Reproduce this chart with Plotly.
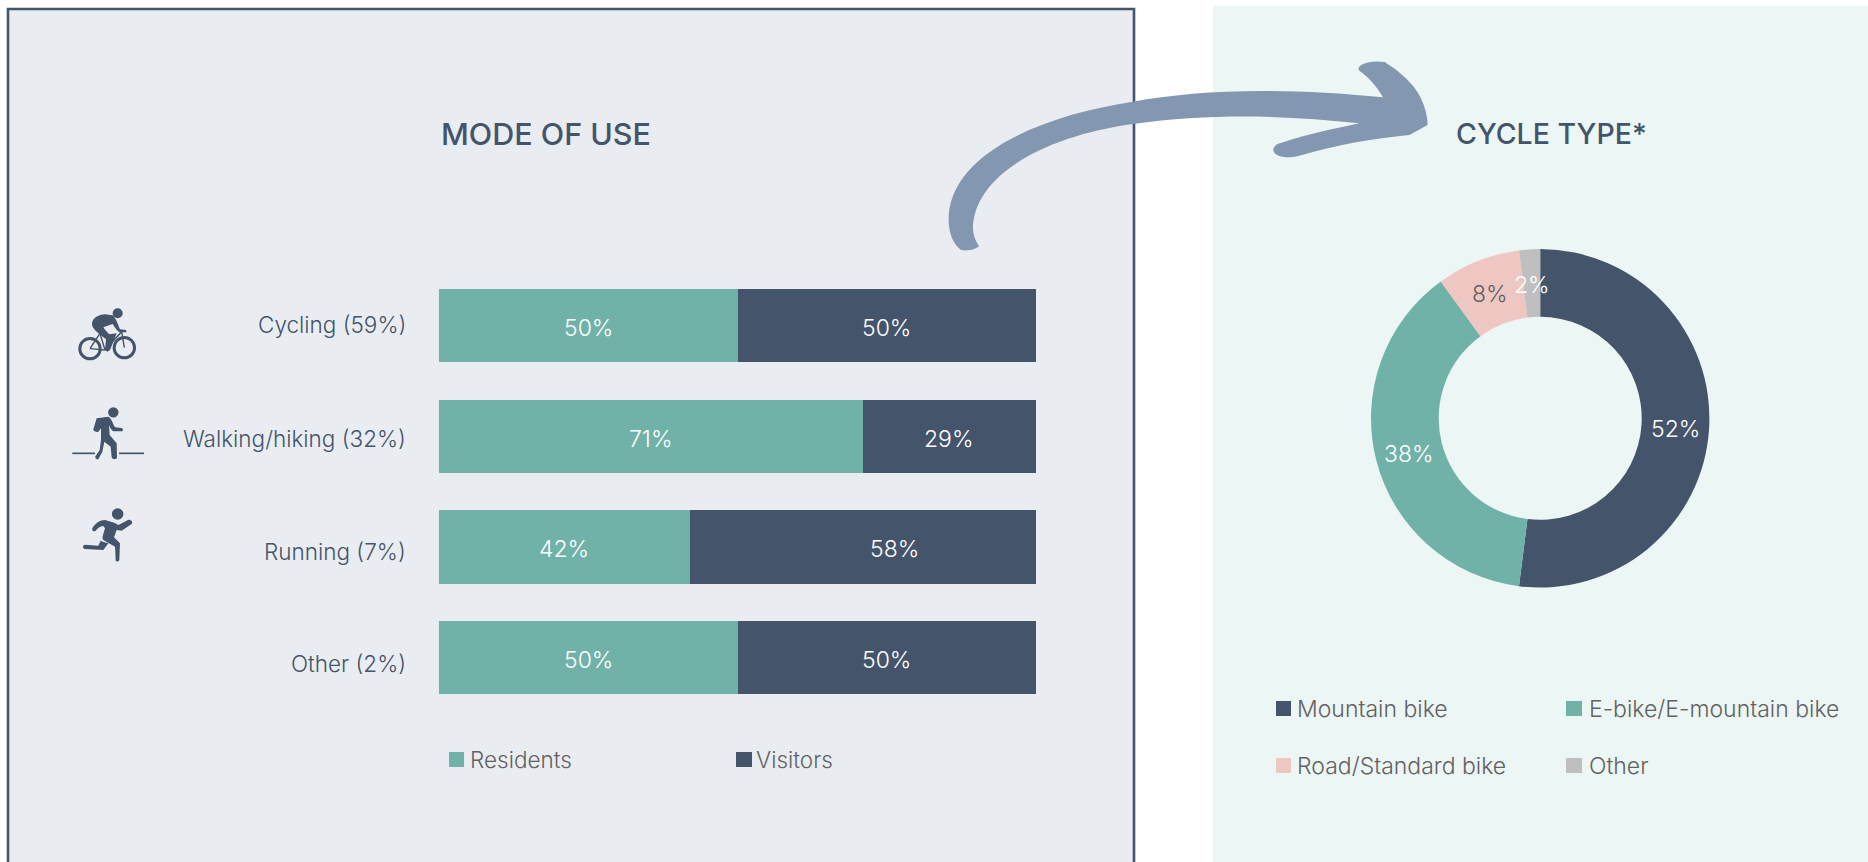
import math
import re
import plotly.graph_objects as go

W, H = 1868, 862

# Data
modes = ["Cycling", "Walking/hiking", "Running", "Other"]
mode_shares = [59, 32, 7, 2]
residents = [50, 71, 42, 50]
visitors = [50, 29, 58, 50]
cycle_types = ["Mountain bike", "E-bike/E-mountain bike", "Road/Standard bike", "Other"]
cycle_values = [52, 38, 8, 2]

# Palette
NAVY = "#44546a"
TEAL = "#71b2a8"
PINK = "#efc7c2"
GREY = "#bfbfbf"
ARROW = "#8497b0"
PANEL_L = "#e9edf2"
PANEL_R = "#ecf6f4"
LEGEND_TEXT = "#626262"
FONT = "Inter"
BODY_SIZE = 23
LABEL_SIZE = 22.5


def fx(px):
    return px / W


def fy(py):
    return 1 - py / H


def path(d, ox=0.0, oy=0.0, sx=1.0, sy=1.0):
    """Turn an absolute M/L/C path in local units into figure-fraction coordinates."""
    nums = iter(re.findall(r"[A-Za-z]|-?\d+\.?\d*", d))
    out = []
    for tok in nums:
        if tok.isalpha():
            out.append(tok)
        else:
            x = ox + float(tok) * sx
            y = oy + float(next(nums)) * sy
            out.append(f"{fx(x):.5f},{fy(y):.5f}")
    return " ".join(out)


shapes = []


def rect(x0, y0, x1, y1, fill, line=None, lw=0, layer="below"):
    shapes.append(dict(type="rect", xref="paper", yref="paper", layer=layer,
                       x0=fx(x0), x1=fx(x1), y0=fy(y0), y1=fy(y1),
                       fillcolor=fill, line=dict(color=line or fill, width=lw)))


def blob(d, ox=0.0, oy=0.0, sx=1.0, sy=1.0, fill=NAVY):
    shapes.append(dict(type="path", xref="paper", yref="paper", layer="above",
                       path=path(d, ox, oy, sx, sy), fillcolor=fill, line=dict(width=0)))


def stroke(d, ox, oy, s, width):
    shapes.append(dict(type="path", xref="paper", yref="paper", layer="above",
                       path=path(d, ox, oy, s, s), line=dict(color=NAVY, width=width)))


def disc(cx, cy, r, fill=NAVY, line=None, lw=0):
    shapes.append(dict(type="circle", xref="paper", yref="paper", layer="above",
                       x0=fx(cx - r), x1=fx(cx + r), y0=fy(cy - r), y1=fy(cy + r),
                       fillcolor=fill, line=dict(color=line or fill, width=lw)))


# Background panels
rect(8, 9, 1134, 880, PANEL_L, NAVY, 2.6)
rect(1213, 6, 1880, 880, PANEL_R)

# Sweeping arrow joining the two panels
blob("M145 738 C135 748 115 754 92 750 C70 735 55 700 55 660 "
     "C55 470 310 350 600 305 "
     "C780 270 1040 260 1340 292 C1320 255 1295 230 1270 212 "
     "C1258 200 1290 178 1345 186 C1390 215 1430 250 1450 290 "
     "C1462 315 1472 345 1472 375 L1418 405 C1310 415 1200 435 1100 465 "
     "C1060 478 1020 472 1015 450 C1018 435 1030 430 1040 428 "
     "C1120 402 1200 385 1270 370 C1050 345 830 340 600 372 "
     "C330 410 130 530 127 685 C128 705 135 725 145 738 Z",
     930, 0, 1 / 2.958, 1 / 3, ARROW)

# Cyclist icon
S = 1 / 3
CX, CY = 70, 300
disc(CX + 60 * S, CY + 146 * S, 10.2, "rgba(0,0,0,0)", NAVY, 3)
disc(CX + 163 * S, CY + 143 * S, 10.2, "rgba(0,0,0,0)", NAVY, 3)
disc(CX + 143 * S, CY + 40 * S, 5)
blob("M66 72 C66 55 85 44 105 43 L128 46 C135 50 145 75 150 88 L168 90 L170 97 L148 97 "
     "C140 92 132 78 128 72 L100 82 C105 90 112 97 118 103 L140 100 L120 150 L112 155 "
     "L105 150 L108 118 L85 100 C75 90 66 82 66 72 Z", CX, CY, S, S)
stroke("M60 146 L105 150 L155 95 L163 143", CX, CY, S, 1.4)
stroke("M60 146 L90 100 L105 150", CX, CY, S, 1.4)

# Walker icon
WX, WY = 65, 400
disc(WX + 145 * S, WY + 37 * S, 5.2)
blob("M95 55 L130 50 C140 55 145 75 150 82 L170 84 C176 88 175 93 170 94 L145 94 "
     "C138 90 134 80 132 75 L134 105 L155 130 L156 172 C156 180 142 180 140 172 L137 140 "
     "L118 125 L112 155 L100 178 C95 180 88 172 92 168 L104 150 L108 120 L108 85 L100 95 "
     "C92 98 84 92 85 88 Z", WX, WY, S, S)
stroke("M22 160 L90 160", WX, WY, S, 1.7)
stroke("M162 160 L237 160", WX, WY, S, 1.7)

# Runner icon
RX, RY = 75, 500
disc(RX + 128 * S, RY + 42 * S, 5.8)
blob("M52 85 C60 70 75 60 90 60 L118 68 L130 75 L155 62 C165 55 175 65 170 72 L140 92 "
     "L125 90 L117 112 L135 130 L133 180 C130 188 120 185 122 178 L120 140 L85 120 "
     "C80 115 84 105 90 85 L85 78 C75 78 68 85 62 92 C55 96 50 92 52 85 Z", RX, RY, S, S)
blob("M83 125 L100 130 L85 150 L30 147 C22 145 22 135 30 134 L70 137 L77 122 Z", RX, RY, S, S)

annotations = []


def text(x, y, s, size, color, weight=300, anchor="left"):
    annotations.append(dict(xref="paper", yref="paper", x=fx(x), y=fy(y), text=s,
                            xanchor=anchor, yanchor="middle", showarrow=False, borderpad=0,
                            font=dict(family=FONT, size=size, color=color, weight=weight)))


# Panel headings
text(440, 133.5, "MODE OF USE", 30.5, NAVY, 500)
text(1455, 133.5, "CYCLE TYPE*", 28.5, NAVY, 500)

# Category labels sit a little below their bars further down the chart
label_nudge = [1, -2, -5, -6]
for name, share, nudge in zip(modes, mode_shares, label_nudge):
    annotations.append(dict(xref="x", yref="y", x=0, y=name, xshift=-32, yshift=nudge,
                            text=f"{name} ({share}%)", xanchor="right", yanchor="middle",
                            showarrow=False, borderpad=0,
                            font=dict(family=FONT, size=LABEL_SIZE, color=NAVY, weight=300)))

# Percentages on each stacked segment; the Running visitors label sits right of centre
visitor_label_shift = [0, 0, 32, 0]
for name, res, vis, shift in zip(modes, residents, visitors, visitor_label_shift):
    for mid, value, dx in ((res / 2, res, 0), (res + vis / 2, vis, shift)):
        annotations.append(dict(xref="x", yref="y", x=mid, y=name, xshift=dx, yshift=-2.5,
                                text=f"{value}%", showarrow=False, borderpad=0,
                                font=dict(family=FONT, size=BODY_SIZE, color="white", weight=300)))


def legend_item(x0, x1, y, color, label, text_x):
    rect(x0, y - 7.5, x1, y + 7.5, color, layer="above")
    text(text_x, y, label, BODY_SIZE if text_x > 1000 else LABEL_SIZE, LEGEND_TEXT)


# Legend for the bars
legend_item(449, 464, 759.5, TEAL, "Residents", 469)
legend_item(736, 752, 759.5, NAVY, "Visitors", 755)

# Legend for the donut
donut_colors = [NAVY, TEAL, PINK, GREY]
legend_item(1276, 1291, 708.5, donut_colors[0], cycle_types[0], 1296)
legend_item(1566, 1582, 708.5, donut_colors[1], cycle_types[1], 1588)
legend_item(1276, 1291, 765.5, donut_colors[2], cycle_types[2], 1296)
legend_item(1566, 1582, 765.5, donut_colors[3], cycle_types[3], 1588)

# Donut geometry
DONUT_X, DONUT_Y = 1540.2, 418.3
DONUT_R = 169.2
DONUT_HOLE = 0.6

# Donut percentages sit midway across the ring, at each slice's middle angle
donut_text_colors = ["white", "white", "#5f5f5f", "white"]
running = 0
total = sum(cycle_values)
for value, color in zip(cycle_values, donut_text_colors):
    angle = 2 * math.pi * (running + value / 2) / total
    running += value
    radius = DONUT_R * (1 + DONUT_HOLE) / 2
    text(DONUT_X + radius * math.sin(angle), DONUT_Y - radius * math.cos(angle) + 2,
         f"{value}%", BODY_SIZE, color, anchor="center")

fig = go.Figure()
fig.add_bar(y=modes, x=residents, orientation="h", name="Residents",
            marker=dict(color=TEAL, line_width=0), hoverinfo="x+y+name")
fig.add_bar(y=modes, x=visitors, orientation="h", name="Visitors",
            marker=dict(color=NAVY, line_width=0), hoverinfo="x+y+name")

fig.add_pie(labels=cycle_types, values=cycle_values, sort=False, direction="clockwise", rotation=0,
            hole=DONUT_HOLE, marker=dict(colors=donut_colors, line=dict(width=0)),
            textinfo="none",
            domain=dict(x=[fx(DONUT_X - DONUT_R), fx(DONUT_X + DONUT_R)],
                        y=[fy(DONUT_Y + DONUT_R), fy(DONUT_Y - DONUT_R)]))

fig.update_layout(
    width=W, height=H, autosize=False, margin=dict(l=0, r=0, t=0, b=0),
    barmode="stack", bargap=0.336, showlegend=False,
    paper_bgcolor="white", plot_bgcolor="rgba(0,0,0,0)",
    xaxis=dict(domain=[fx(439), fx(1036)], range=[0, 100], visible=False, fixedrange=True),
    yaxis=dict(domain=[fy(713), fy(270.2)], categoryorder="array", categoryarray=modes,
               range=[3.5, -0.5], visible=False, fixedrange=True),
    shapes=shapes, annotations=annotations,
)

fig.write_html("out.html")
